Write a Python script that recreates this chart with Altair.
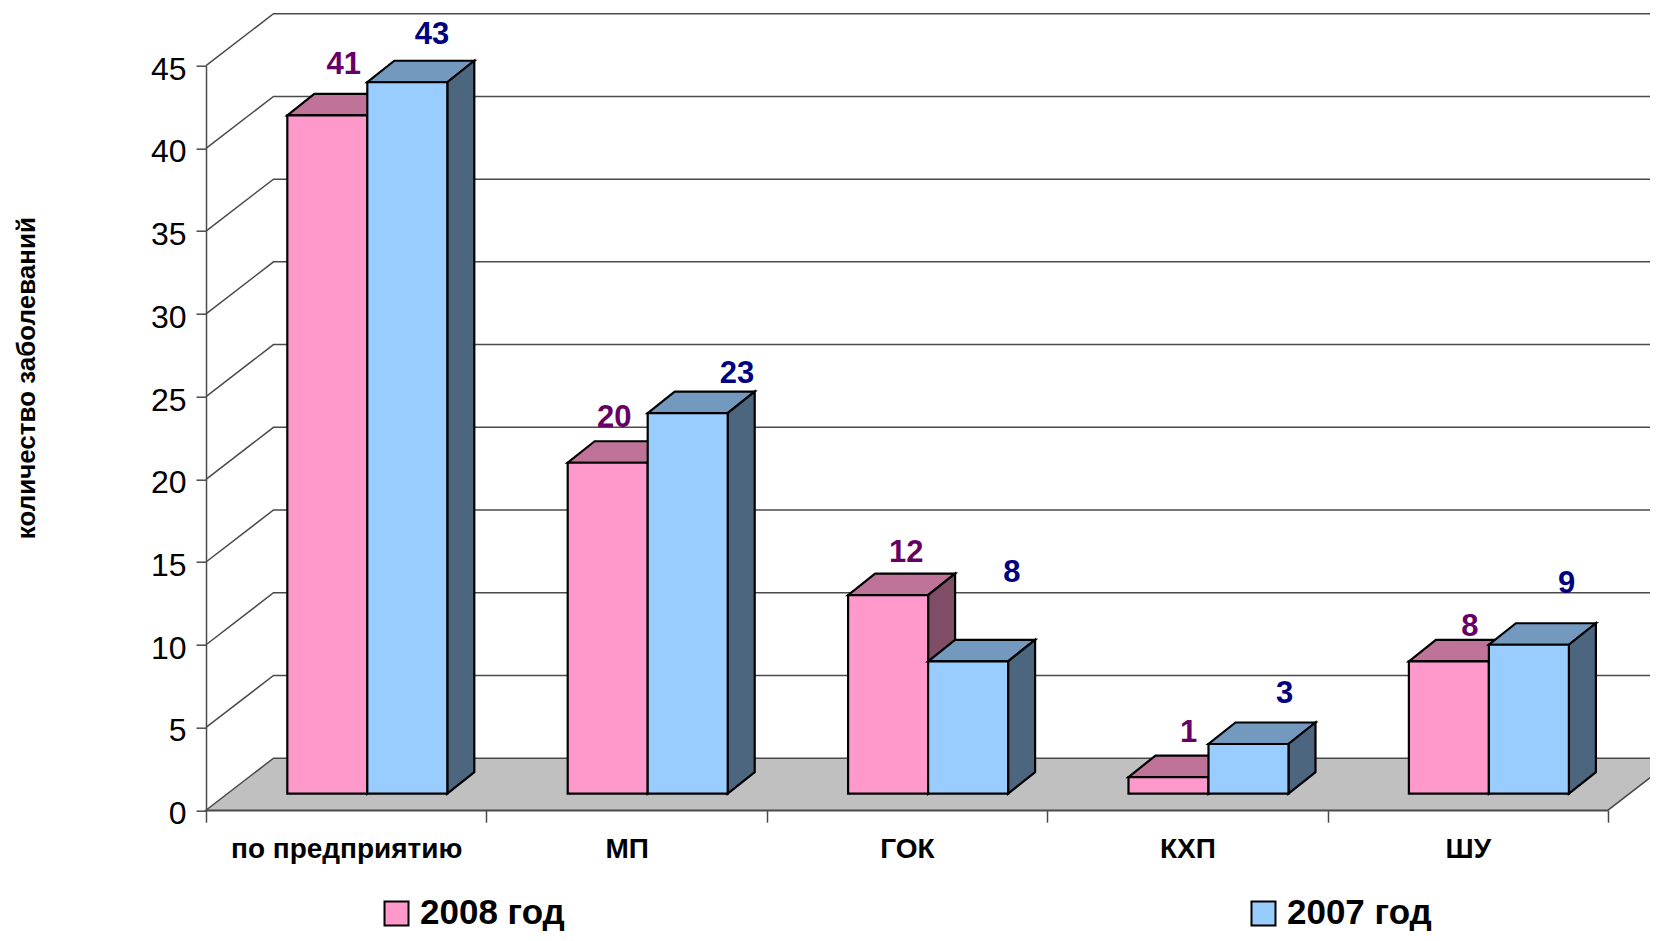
import json
import altair as alt
import pandas as pd

categories = ["по предприятию", "МП", "ГОК", "КХП", "ШУ"]
values_2008 = [41, 20, 12, 1, 8]
values_2007 = [43, 23, 8, 3, 9]
series_names = ["2008 год", "2007 год"]
y_ticks = [0, 5, 10, 15, 20, 25, 30, 35, 40, 45]
x_ticks = [0, 1, 2, 3, 4, 5]

# pixels per axis unit of the oblique drawing
PX_X = 280.4
PX_Y = 16.54
WALL_DX = 67.5 / PX_X
WALL_DY = 52 / PX_Y
BAR_DX = 27 / PX_X
BAR_DY = 21.5 / PX_Y
BAR_W = 80 / PX_X
BAR_LEFT = 81.3 / PX_X
BASE = 1.0

# hand-placed data labels: shift from the bar's centre, rise above its top (px)
shift_2008 = [16.4, 6.6, 18.1, 20, 20.9]
rise_2008 = [50.2, 44.3, 42.3, 44.5, 34.5]
shift_2007 = [24.7, 49.3, 43.8, 36.2, 37.7]
rise_2007 = [47.5, 39.1, 88.4, 49.5, 61.2]


def para(x0, x1, lo, face):
    """top face as an area: front edge at lo, back edge raised by the depth"""
    return [
        dict(face=face, x=x0, lo=lo, hi=lo),
        dict(face=face, x=x0 + BAR_DX, lo=lo, hi=lo + BAR_DY),
        dict(face=face, x=x1, lo=lo, hi=lo + BAR_DY),
        dict(face=face, x=x1 + BAR_DX, lo=lo + BAR_DY, hi=lo + BAR_DY),
    ]


def series_frames(vals, name, offset, shift, rise):
    front, top, side, label = [], [], [], []
    for i, v in enumerate(vals):
        x0 = i + BAR_LEFT + offset
        x1 = x0 + BAR_W
        t = v + BASE
        front.append(dict(x=x0, x2=x1, y=BASE, y2=t, series=name))
        top += para(x0, x1, t, f"t{i}")
        side += [
            dict(face=f"s{i}", x=x1, lo=BASE, hi=t),
            dict(face=f"s{i}", x=x1 + BAR_DX, lo=BASE + BAR_DY, hi=t + BAR_DY),
        ]
        label.append(dict(x=(x0 + x1) / 2 + shift[i] / PX_X, y=t + rise[i] / PX_Y, text=str(v)))
    return tuple(pd.DataFrame(d) for d in (front, top, side, label))


f08, t08, s08, l08 = series_frames(values_2008, series_names[0], 0, shift_2008, rise_2008)
f07, t07, s07, l07 = series_frames(values_2007, series_names[1], BAR_W, shift_2007, rise_2007)

xs = alt.Scale(domain=[0, 5], nice=False, zero=False)
ys = alt.Scale(domain=[0, 45], nice=False, zero=False)
color_scale = alt.Scale(domain=series_names, range=["#FF99CC", "#99CCFF"])
LINE = "#4a4a4a"
FONT = "Liberation Sans"

label_expr = json.dumps(categories, ensure_ascii=False) + "[datum.value] || ''"

x_axis = alt.Axis(values=x_ticks, title=None, grid=False, tickSize=12, tickColor=LINE, tickWidth=1.5,
                  domainColor=LINE, domainWidth=1.5, labelExpr=label_expr, labelOffset=PX_X / 2,
                  labelAlign="center", labelBaseline="middle", labelOverlap=False, labelBound=False,
                  labelFlush=False, labelFont=FONT, labelFontWeight="bold", labelFontSize=28,
                  labelLimit=400, labelColor="black", labelPadding=27, zindex=1)
y_axis = alt.Axis(values=y_ticks, title="количество заболеваний", grid=False, tickSize=10, tickColor=LINE,
                  tickWidth=1.5, domainColor=LINE, domainWidth=1.5, labelFont=FONT, labelFontSize=32,
                  labelColor="black", labelPadding=10, labelOverlap=False, labelBound=False, labelFlush=False,
                  labelOffset=3.5, titleFont=FONT, titleFontWeight="bold", titleFontSize=26, titleColor="black",
                  titleX=-180, titleY=312, titleAlign="center", titleBaseline="middle", titleLimit=500, zindex=1)

floor_df = pd.DataFrame([
    dict(x=0, lo=0, hi=0),
    dict(x=WALL_DX, lo=0, hi=WALL_DY),
    dict(x=5, lo=0, hi=WALL_DY),
    dict(x=5 + WALL_DX, lo=WALL_DY, hi=WALL_DY),
])
floor = alt.Chart(floor_df).mark_area(fill="#C0C0C0", stroke=LINE, strokeWidth=1.5).encode(
    x=alt.X("x:Q", scale=xs, axis=x_axis),
    y=alt.Y("lo:Q", scale=ys, axis=y_axis),
    y2="hi:Q",
)

grid_rows = []
for v in y_ticks[1:]:
    grid_rows += [
        dict(line=f"g{v}", x=0, y=v),
        dict(line=f"g{v}", x=WALL_DX, y=v + WALL_DY),
        dict(line=f"g{v}", x=5 + WALL_DX, y=v + WALL_DY),
    ]
grid = alt.Chart(pd.DataFrame(grid_rows)).mark_line(color=LINE, strokeWidth=1.5).encode(
    x=alt.X("x:Q", scale=xs, axis=x_axis),
    y=alt.Y("y:Q", scale=ys, axis=y_axis),
    detail="line:N",
)


def faces(df, fill):
    return alt.Chart(df).mark_area(fill=fill, stroke="black", strokeWidth=2.2).encode(
        x=alt.X("x:Q", scale=xs, axis=x_axis),
        y=alt.Y("lo:Q", scale=ys, axis=y_axis),
        y2="hi:Q",
        detail="face:N",
    )


def fronts(df):
    return alt.Chart(df).mark_bar(stroke="black", strokeWidth=2.2).encode(
        x=alt.X("x:Q", scale=xs, axis=x_axis),
        x2="x2:Q",
        y=alt.Y("y:Q", scale=ys, axis=y_axis),
        y2="y2:Q",
        color=alt.Color("series:N", scale=color_scale, sort=series_names, legend=alt.Legend(
            orient="none", legendX=173, legendY=830, direction="horizontal", columns=2, title=None,
            symbolType="square", symbolSize=576, symbolStrokeColor="black", symbolStrokeWidth=2,
            symbolOpacity=1, labelFont=FONT, labelFontWeight="bold", labelFontSize=35, labelColor="black",
            labelOffset=6, columnPadding=681, padding=0, labelLimit=400)),
    )


def labels(df, color):
    return alt.Chart(df).mark_text(font=FONT, fontWeight="bold", fontSize=31, color=color,
                                   align="center", baseline="middle").encode(
        x=alt.X("x:Q", scale=xs, axis=x_axis),
        y=alt.Y("y:Q", scale=ys, axis=y_axis),
        text="text:N",
    )


chart = alt.layer(
    floor, grid,
    faces(t08, "#BF7399"), faces(s08, "#804D66"), fronts(f08),
    faces(t07, "#7399BF"), faces(s07, "#4D6680"), fronts(f07),
    labels(l08, "#660066"), labels(l07, "#000080"),
).properties(
    width=1402,
    height=744.5,
    padding={"left": 198, "top": 57.7, "right": 42, "bottom": 123},
    autosize=alt.AutoSizeParams(type="none"),
    background="white",
).configure_view(stroke=None)

chart.save("out.html", embed_options={"renderer": "svg", "actions": False})
